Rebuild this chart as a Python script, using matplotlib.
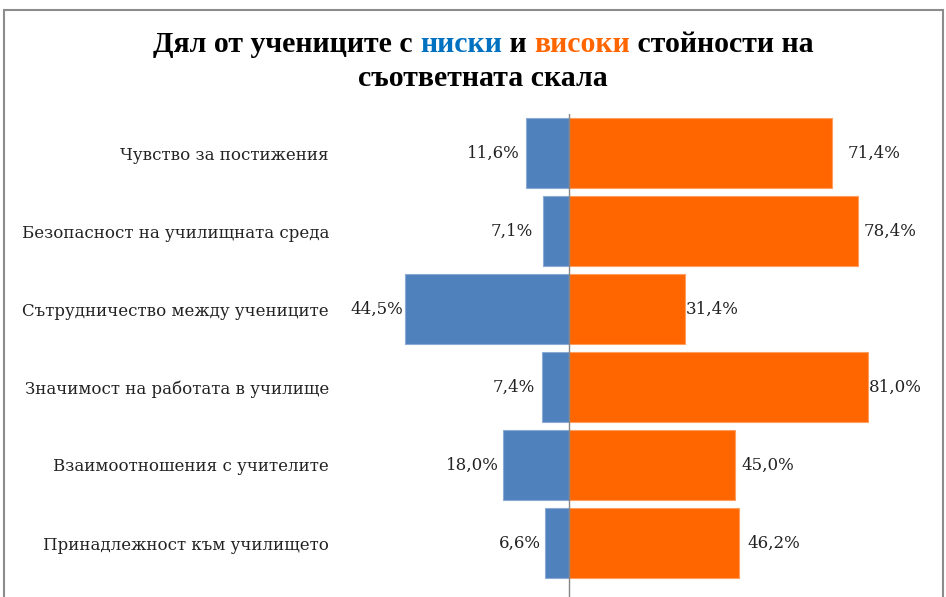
import matplotlib
matplotlib.use("Agg")
import matplotlib.pyplot as plt
from matplotlib.patches import Rectangle

categories = [
    "Чувство за постижения",
    "Безопасност на училищната среда",
    "Сътрудничество между учениците",
    "Значимост на работата в училище",
    "Взаимоотношения с учителите",
    "Принадлежност към училището",
]
low = [11.6, 7.1, 44.5, 7.4, 18.0, 6.6]
high = [71.4, 78.4, 31.4, 81.0, 45.0, 46.2]

# label gaps from the bar end, in pixels (labels were hand placed)
low_gap = [7, 10, 2, 7, 4, 4]
high_gap = [15, 5, 1, 1, 6, 8]

blue = "#4F81BD"
orange = "#FF6600"
serif = ["DejaVu Serif"]

W, H = 946, 597
fig = plt.figure(figsize=(W / 100, H / 100), dpi=100)

left_px, right_px, top_px, bot_px = 340, 940, 114, 597
ax = fig.add_axes([left_px / W, 1 - bot_px / H, (right_px - left_px) / W, (bot_px - top_px) / H])
px_per_unit = 3.69
zero_px = 569
ax.set_xlim(-(zero_px - left_px) / px_per_unit, (right_px - zero_px) / px_per_unit)
ax.set_ylim(-0.5 + (bot_px - top_px) / 78, -0.5)

ypos = list(range(len(categories)))
ax.barh(ypos, [-v for v in low], height=0.9, color=blue, edgecolor="#8AAAD3", linewidth=0.8)
ax.barh(ypos, high, height=0.9, color=orange, edgecolor="#FF9E5E", linewidth=0.8)
ax.axvline(0, color="#868686", lw=1, zorder=3)

for y, lo, hi, gl, gh in zip(ypos, low, high, low_gap, high_gap):
    ax.annotate(f"{lo:.1f}%".replace(".", ","), (-lo, y), xytext=(-gl * 0.72, 0),
                textcoords="offset points", ha="right", va="center",
                fontsize=12, family=serif, color="#222222")
    ax.annotate(f"{hi:.1f}%".replace(".", ","), (hi, y), xytext=(gh * 0.72, 0),
                textcoords="offset points", ha="left", va="center",
                fontsize=12, family=serif, color="#222222")

ax.set_yticks(ypos)
ax.set_yticklabels(categories, family=serif, fontsize=12, color="#222222")
ax.tick_params(axis="y", length=0, pad=8)
ax.set_xticks([])
for s in ax.spines.values():
    s.set_visible(False)

# outer frame
fig.patches.append(Rectangle((4 / W, -0.05), (943 - 4) / W, 1.05 - 10 / H, transform=fig.transFigure,
                             fill=False, edgecolor="#8C8C8C", lw=1.5))

# multi-colored title
fig.canvas.draw()
renderer = fig.canvas.get_renderer()


def colored_line(parts, y_px):
    texts = []
    for s, c in parts:
        t = fig.text(0, 1 - y_px / H, s, color=c, fontsize=21.5, fontweight="bold",
                     family=["Liberation Serif", "DejaVu Serif"], va="center", ha="left")
        texts.append(t)
    widths = [t.get_window_extent(renderer).width for t in texts]
    x = (W - sum(widths)) / 2 + 10
    for t, w in zip(texts, widths):
        t.set_x(x / W)
        x += w


colored_line([("Дял от учениците с ", "black"), ("ниски", "#0070C0"), (" и ", "black"),
              ("високи", orange), (" стойности на", "black")], 45)
colored_line([("съответната скала", "black")], 78)

fig.savefig("out.png", dpi=100)
